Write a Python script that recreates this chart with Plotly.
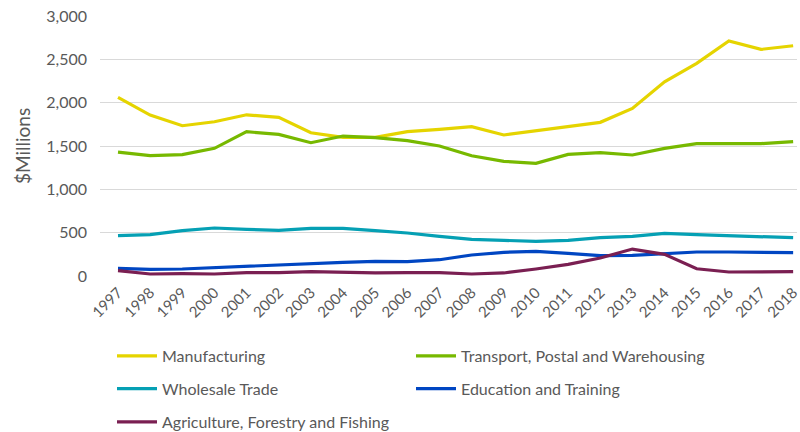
import plotly.graph_objects as go

years = list(range(1997, 2019))

manufacturing = [2060, 1857, 1734, 1780, 1860, 1830, 1653, 1600, 1600, 1665, 1692,
                 1723, 1627, 1673, 1723, 1773, 1934, 2241, 2453, 2711, 2615, 2657]
transport = [1430, 1388, 1400, 1473, 1665, 1634, 1538, 1615, 1596, 1561, 1500,
             1388, 1323, 1300, 1403, 1423, 1396, 1473, 1527, 1527, 1527, 1550]
wholesale = [465, 477, 523, 554, 538, 527, 550, 550, 523, 496, 458,
             423, 411, 400, 411, 442, 458, 492, 477, 465, 454, 442]
education = [88, 77, 81, 96, 119, 131, 150, 158, 169, 165, 188,
             242, 273, 285, 262, 234, 238, 257, 277, 277, 269, 269]
agriculture = [61, 23, 27, 23, 38, 38, 50, 38, 35, 38, 38,
               23, 35, 81, 135, 208, 311, 250, 84, 46, 50, 50]

series = [
    ("Manufacturing", manufacturing, "#E5D400", "legend"),
    ("Transport, Postal and Warehousing", transport, "#77B900", "legend"),
    ("Wholesale Trade", wholesale, "#05A0B4", "legend2"),
    ("Education and Training", education, "#0046C2", "legend2"),
    ("Agriculture, Forestry and Fishing", agriculture, "#7A1F52", "legend3"),
]

FONT = "Lato, 'Open Sans', sans-serif"
GREY = "#595959"

fig = go.Figure()
for name, vals, color, leg in series:
    fig.add_trace(go.Scatter(
        x=years, y=vals, name=name, mode="lines",
        line=dict(color=color, width=3.2),
        legend=leg,
    ))

legend_common = dict(
    orientation="h", xanchor="left", yanchor="middle",
    xref="container", yref="container", x=0.14,
    entrywidth=244, entrywidthmode="pixels",
    font=dict(family=FONT, size=16, color=GREY),
    bgcolor="rgba(0,0,0,0)", itemwidth=40,
)

fig.update_layout(
    width=800, height=432,
    margin=dict(l=100, r=3, t=16, b=156, autoexpand=False),
    paper_bgcolor="white", plot_bgcolor="white",
    font=dict(family=FONT, color=GREY),
    xaxis=dict(
        range=[1996.44, 2018.12],
        tickmode="array", tickvals=years, ticktext=[str(y) for y in years],
        tickangle=-45, tickfont=dict(size=15, color=GREY),
        showgrid=False, zeroline=False, showline=False, ticks="",
        ticklabelstandoff=4, ticklabeloverflow="allow",
    ),
    yaxis=dict(
        range=[0, 3000], dtick=500, tickformat=",d",
        tickfont=dict(size=16, color=GREY),
        gridcolor="#D9D9D9", gridwidth=1,
        zeroline=False, showline=False, ticks="",
        ticklabelstandoff=12,
        title=dict(text="$Millions", font=dict(size=19, color=GREY), standoff=10),
    ),
    legend=dict(y=0.176, **legend_common),
    legend2=dict(y=0.100, **legend_common),
    legend3=dict(y=0.023, **legend_common),
)

fig.write_html("out.html")
